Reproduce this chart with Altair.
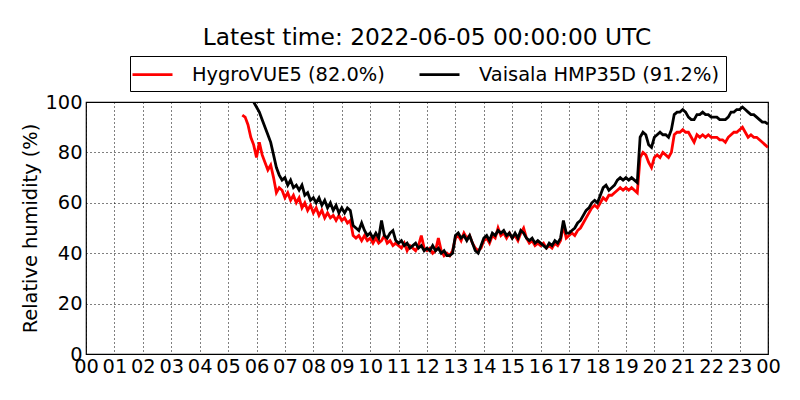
import altair as alt
import pandas as pd

# Sample times: every 6 minutes (0.1 h)
red_start = 5.5
black_start = 5.9
step = 0.1

hygrovue = [
    94.8, 94, 91, 86, 83, 78, 84, 79, 76, 73,          # 5.5-6.4
    75, 70, 64, 66, 65, 62, 64, 61, 63, 60,            # 6.5-7.4
    62, 58, 60, 57, 59, 56, 58, 55, 57, 54,            # 7.5-8.4
    56, 54, 55, 53, 55, 53, 54, 52, 53, 47,            # 8.5-9.4
    46, 47, 45, 47, 45, 46, 44, 46, 44, 45,            # 9.5-10.4
    47, 44, 45, 43, 44, 43, 42, 44, 41, 43,            # 10.5-11.4
    42, 41, 43, 47, 42, 41, 42, 40, 41, 46,            # 11.5-12.4
    41, 39, 40, 39, 41, 46, 47, 45, 48, 46,            # 12.5-13.4
    47, 44, 42, 41, 42, 45, 46, 44, 47, 46,            # 13.5-14.4
    50, 47, 48, 46, 48, 46, 47, 45, 48, 50,            # 14.5-15.4
    46, 44, 45, 43, 44, 43, 44, 42, 43, 42,            # 15.5-16.4
    44, 43, 45, 51, 46, 47, 48, 47, 49, 50,            # 16.5-17.4
    52, 54, 56, 58, 59, 58, 60, 62, 61, 63,            # 17.5-18.4
    63, 64, 65, 66, 65, 66, 65, 66, 65, 64,            # 18.5-19.4
    78, 80, 79, 76, 74, 78, 79, 78, 80, 79,            # 19.5-20.4
    78, 80, 87, 88, 88, 89, 88, 88, 86, 84,            # 20.5-21.4
    87, 86, 87, 86, 87, 86, 86, 86, 85, 85,            # 21.5-22.4
    84, 86, 87, 88, 88, 89, 90, 88, 86, 87,            # 22.5-23.4
    86, 86, 85, 84, 83, 82,                            # 23.5-24.0
]

vaisala = [
    100, 98, 96, 93, 90, 87,                           # 5.9-6.4
    84, 79, 74, 71, 69, 70, 67, 69, 66, 67,            # 6.5-7.4
    65, 67, 63, 64, 61, 62, 60, 62, 59, 61,            # 7.5-8.4
    58, 60, 57, 59, 56, 58, 56, 58, 57, 51,            # 8.5-9.4
    50, 49, 52, 49, 47, 48, 46, 48, 46, 53,            # 9.5-10.4
    47, 46, 48, 49, 45, 44, 45, 43, 44, 42,            # 10.5-11.4
    43, 44, 42, 43, 41, 42, 41, 43, 41, 42,            # 11.5-12.4
    40, 41, 39, 39, 40, 47, 48, 46, 47, 45,            # 12.5-13.4
    47, 44, 41, 40, 43, 46, 47, 45, 48, 47,            # 13.5-14.4
    49, 48, 49, 47, 48, 46, 48, 46, 49, 48,            # 14.5-15.4
    46, 45, 46, 44, 45, 44, 43, 42, 44, 43,            # 15.5-16.4
    45, 44, 46, 53, 48, 48, 49, 50, 52, 53,            # 16.5-17.4
    55, 57, 58, 60, 61, 60, 63, 66, 67, 65,            # 17.5-18.4
    66, 67, 69, 70, 69, 70, 69, 70, 69, 68,            # 18.5-19.4
    86, 88, 87, 83, 82, 86, 87, 88, 87, 87,            # 19.5-20.4
    86, 89, 95, 96, 96, 97, 96, 94, 93, 93,            # 20.5-21.4
    95, 95, 96, 95, 95, 94, 94, 94, 93, 93,            # 21.5-22.4
    93, 94, 96, 96, 97, 97, 98, 97, 96, 95,            # 22.5-23.4
    95, 94, 93, 92, 92, 91.2,                          # 23.5-24.0
]

series_names = ["HygroVUE5 (82.0%)", "Vaisala HMP35D (91.2%)"]
series_colors = ["red", "black"]
hour_ticks = list(range(0, 25))
rh_ticks = [0, 20, 40, 60, 80, 100]
title_text = "Latest time: 2022-06-05 00:00:00 UTC"

red_df = pd.DataFrame({
    "hour": [round(red_start + step * i, 2) for i in range(len(hygrovue))],
    "rh": hygrovue,
    "sensor": series_names[0],
})
black_df = pd.DataFrame({
    "hour": [round(black_start + step * i, 2) for i in range(len(vaisala))],
    "rh": vaisala,
    "sensor": series_names[1],
})

FONT = "DejaVu Sans"

x_enc = alt.X(
    "hour:Q",
    scale=alt.Scale(domain=[0, 24], nice=False),
    axis=alt.Axis(
        values=hour_ticks,
        labelExpr="datum.value % 24 < 10 ? '0' + (datum.value % 24) : '' + (datum.value % 24)",
        title=None,
        grid=True,
        gridColor="black",
        gridDash=[1, 3],
        gridWidth=1,
        gridOpacity=1,
        ticks=False,
        domain=False,
        labelFontSize=19.4,
        labelColor="black",
        labelPadding=3,
        labelFlush=False,
        labelOverlap=False,
        labelBound=False,
    ),
)
y_enc = alt.Y(
    "rh:Q",
    scale=alt.Scale(domain=[0, 100], nice=False),
    axis=alt.Axis(
        values=rh_ticks,
        title="Relative humidity (%)",
        titleFontSize=19.4,
        titleFontWeight="normal",
        titleColor="black",
        titleAngle=270,
        titleX=-56,
        titleY=126,
        titleAlign="center",
        titleBaseline="middle",
        grid=True,
        gridColor="black",
        gridDash=[1, 3],
        gridWidth=1,
        gridOpacity=1,
        ticks=False,
        domain=False,
        labelFontSize=19.4,
        labelColor="black",
        labelPadding=4,
        labelFlush=False,
        labelOverlap=False,
        labelBound=False,
    ),
)
color_enc = alt.Color(
    "sensor:N",
    scale=alt.Scale(domain=series_names, range=series_colors),
    legend=alt.Legend(
        title=None,
        orient="none",
        legendX=44,
        legendY=-46,
        direction="horizontal",
        strokeColor="black",
        fillColor="white",
        padding=7,
        cornerRadius=0,
        symbolType="M-1.6,0H2.4",
        symbolSize=400,
        symbolStrokeWidth=2.8,
        labelFontSize=19.4,
        labelColor="black",
        labelOffset=32,
        columnPadding=28,
        labelLimit=400,
    ),
)

red_line = alt.Chart(red_df).mark_line(strokeWidth=2.8, clip=True).encode(
    x=x_enc, y=y_enc, color=color_enc
)
black_line = alt.Chart(black_df).mark_line(strokeWidth=2.8, clip=True).encode(
    x=x_enc, y=y_enc, color=color_enc
)

chart = alt.layer(red_line, black_line).properties(
    width=682,
    height=252,
    title=alt.TitleParams(
        text=title_text,
        fontSize=23.3,
        fontWeight="normal",
        color="black",
        font=FONT,
        anchor="middle",
        offset=-13,
        baseline="alphabetic",
    ),
    autosize=alt.AutoSizeParams(type="none"),
    padding={"left": 78, "top": 94, "right": 24, "bottom": 38},
).configure(
    font=FONT,
).configure_view(
    stroke="black",
    strokeWidth=1.2,
)

chart.save("out.html", embed_options={"renderer": "svg", "actions": False})
